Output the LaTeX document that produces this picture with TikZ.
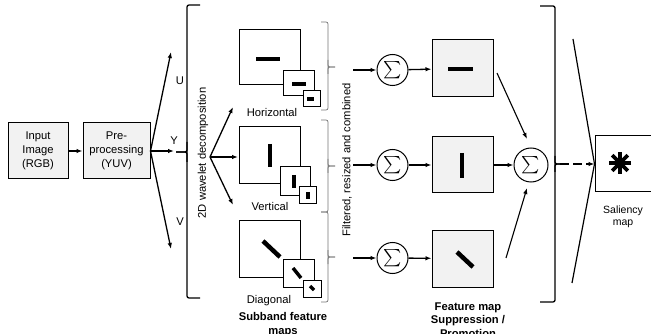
\documentclass[tikz,border=0pt]{standalone}
\usepackage{amsmath}
\usepackage{fontspec}
\setmainfont{Liberation Sans}
\usetikzlibrary{arrows.meta}

\definecolor{lightfill}{RGB}{242,242,242}

\tikzset{
  procbox/.style={draw, line width=1pt, fill=lightfill, minimum width=60pt,
    minimum height=56pt, align=center, inner sep=1pt},
  submap/.style={draw, line width=1pt, fill=white, inner sep=0pt},
  sumnode/.style={draw, circle, line width=1pt, fill=white, minimum size=31pt,
    inner sep=0pt, font=\fontsize{17}{17}\selectfont},
  bar/.style={line width=4.5pt},
  smallbar/.style={line width=3.5pt},
  flow/.style={line width=1.3pt, -{Latex[length=6pt,width=4.5pt]}},
  thinbrace/.style={black!55, line width=0.7pt, rounded corners=2pt},
  bigbrace/.style={line width=1.3pt, rounded corners=2pt},
}

\begin{document}
\begin{tikzpicture}[x=1pt, y=-1pt, font=\fontsize{11.2}{14}\selectfont]
  \useasboundingbox (0,0) rectangle (651,334);

  % --- Input and pre-processing ---
  \node[procbox] (inp) at (38,151) {Input\\Image\\(RGB)};
  \node[procbox, minimum width=67pt] (pre) at (116.5,151) {Pre-\\processing\\(YUV)};
  \draw[flow] (inp) -- (pre);

  % --- Y, U and V channels ---
  \coordinate (chU) at (171,52);
  \coordinate (chY) at (174,151);
  \coordinate (chV) at (171,249);
  \draw[flow] (pre.east) -- (chU);
  \draw[flow] (pre.east) -- (chY);
  \draw[flow] (pre.east) -- (chV);
  \node (lblU) at (180,81) {U};
  \node (lblY) at (174,141) {Y};
  \node (lblV) at (180,222) {V};

  % --- Left brace ---
  \draw[bigbrace] (200,5) -- (187,5) -- (187,298) -- (200,298);
  \draw[bigbrace] (187,142) -- (187,152) -- (176,152);
  \draw[bigbrace] (187,162) -- (187,152) -- (176,152);
  \node[rotate=90] (wavelet) at (203,153) {2D wavelet decomposition};

  % --- Fork to the subbands ---
  \coordinate (fork) at (210,157);
  \coordinate (toH) at (233,107);
  \coordinate (toV) at (238,157);
  \coordinate (toD) at (233,205);
  \draw[flow] (fork) -- (toH);
  \draw[flow] (fork) -- (toV);
  \draw[flow] (fork) -- (toD);

  % --- Horizontal subband ---
  \node[submap, minimum width=61pt, minimum height=55pt] (hBig) at (269.5,57.5) {};
  \node[submap, minimum width=31pt, minimum height=25pt] (hMid) at (298.5,83.5) {};
  \node[submap, minimum width=17pt, minimum height=16pt] (hSml) at (311.5,99) {};
  \draw[bar] (256,59) -- (280,59);
  \draw[smallbar] (292,84) -- (306,84);
  \draw[smallbar] (307,99) -- (314,99);
  \node (lblH) at (272,112) {Horizontal};

  % --- Vertical subband ---
  \node[submap, minimum width=61pt, minimum height=57pt] (vBig) at (269.5,155.5) {};
  \node[submap, minimum width=30pt, minimum height=29pt] (vMid) at (295,181.5) {};
  \node[submap, minimum width=17pt, minimum height=17pt] (vSml) at (307.5,195.5) {};
  \draw[bar] (270,144) -- (270,167);
  \draw[smallbar] (294,175) -- (294,188);
  \draw[smallbar] (308,192) -- (308,199);
  \node (lblV2) at (270,206) {Vertical};

  % --- Diagonal subband ---
  \node[submap, minimum width=61pt, minimum height=57pt] (dBig) at (269.5,248.5) {};
  \node[submap, minimum width=31pt, minimum height=28pt] (dMid) at (298.5,273) {};
  \node[submap, minimum width=18pt, minimum height=17pt] (dSml) at (312,288.5) {};
  \draw[bar] (263,241) -- (280,257);
  \draw[smallbar] (293,268) -- (301,278);
  \draw[smallbar] (310,286) -- (314,290);
  \node (lblD) at (269,301) {Diagonal};

  \node[font=\fontsize{11.2}{14}\selectfont\bfseries, align=center] (subcap) at (283,325)
    {Subband feature\\maps};

  % --- Small braces ---
  \draw[thinbrace] (321,22) -- (328,22) -- (328,110) -- (321,110);
  \draw[thinbrace] (328,60) -- (328,67) -- (335,67);
  \draw[thinbrace] (328,74) -- (328,67) -- (335,67);
  \draw[thinbrace] (321,120) -- (328,120) -- (328,212) -- (321,212);
  \draw[thinbrace] (328,159) -- (328,166) -- (335,166);
  \draw[thinbrace] (328,173) -- (328,166) -- (335,166);
  \draw[thinbrace] (321,212) -- (328,212) -- (328,302) -- (321,302);
  \draw[thinbrace] (328,250) -- (328,257) -- (335,257);
  \draw[thinbrace] (328,264) -- (328,257) -- (335,257);
  \node[rotate=90] (filt) at (347,160) {Filtered, resized and combined};

  % --- Sums per orientation ---
  \coordinate (inH) at (353,70);
  \coordinate (inV) at (353,165);
  \coordinate (inD) at (353,258);
  \node[sumnode] (sH) at (392.5,70) {$\sum$};
  \node[sumnode] (sV) at (392.5,165) {$\sum$};
  \node[sumnode] (sD) at (392.5,258) {$\sum$};
  \draw[flow] (inH) -- (sH);
  \draw[flow] (inV) -- (sV);
  \draw[flow] (inD) -- (sD);

  % --- Feature map suppression / promotion ---
  \node[procbox, minimum width=61pt, minimum height=57pt] (fmH) at (462.5,68.5) {};
  \node[procbox, minimum width=61pt, minimum height=56pt] (fmV) at (462.5,165) {};
  \node[procbox, minimum width=61pt, minimum height=57pt] (fmD) at (462.5,258.5) {};
  \draw[flow] (sH) -- (fmH);
  \draw[flow] (sV) -- (fmV);
  \draw[flow] (sD) -- (fmD);
  \draw[bar] (448,69) -- (473,69);
  \draw[bar] (462,153) -- (462,178);
  \draw[bar] (457,252) -- (473,267);

  \node[font=\fontsize{11.2}{13.5}\selectfont\bfseries, align=center] (fmcap) at (468,320)
    {Feature map\\Suppression /\\Promotion};

  % --- Total sum ---
  \node[sumnode, minimum size=34pt, font=\fontsize{19}{19}\selectfont] (sAll) at (531,165) {$\sum$};
  \coordinate (outH) at (497,73);
  \coordinate (tipH) at (527,139);
  \coordinate (outD) at (506,258);
  \coordinate (tipD) at (527,188);
  \draw[flow, line width=1.1pt] (outH) -- (tipH);
  \draw[flow] (fmV) -- (sAll);
  \draw[flow, line width=1.1pt] (outD) -- (tipD);

  % --- Right brace and saliency map ---
  \draw[bigbrace] (540,6) -- (555,6) -- (555,302) -- (540,302);
  \draw[bigbrace] (555,156) -- (555,164) -- (560,164);
  \draw[bigbrace] (555,172) -- (555,164) -- (560,164);

  \node[draw, line width=1pt, fill=white, minimum width=65pt, minimum height=56pt] (sal)
    at (627.5,164) {};
  \coordinate (cusp) at (560,164);
  \coordinate (topIn) at (573,39);
  \coordinate (botIn) at (572,283);
  \draw[line width=1.2pt] (topIn) -- (sal.west);
  \draw[line width=1.2pt] (botIn) -- (sal.west);
  \draw[flow, dash pattern=on 9pt off 4pt] (cusp) -- (sal.west);
  \foreach \ang in {0,45,90,135}
    \draw[line width=3.6pt] (620,163) ++(\ang:11) -- ++(\ang+180:22);

  \node[align=center, font=\fontsize{10.5}{12.5}\selectfont] (salcap) at (623,217) {Saliency\\map};

\end{tikzpicture}
\end{document}
